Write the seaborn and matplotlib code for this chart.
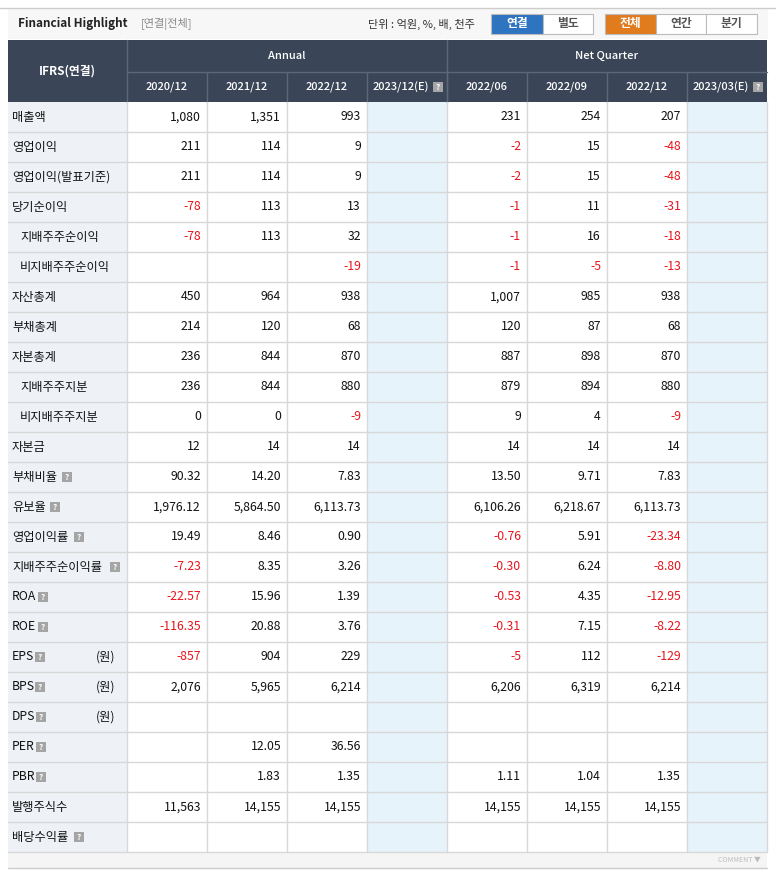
import matplotlib
matplotlib.use("Agg")
import matplotlib.pyplot as plt
from matplotlib.patches import Rectangle
import seaborn as sns

sns.set_theme(style="white")
plt.rcParams["font.family"] = ["Noto Sans CJK KR", "Noto Sans CJK JP", "DejaVu Sans"]

# ── data ─────────────────────────────────────────────────────────────────────
row_labels = ["매출액", "영업이익", "영업이익(발표기준)", "당기순이익", "지배주주순이익",
              "비지배주주순이익", "자산총계", "부채총계", "자본총계", "지배주주지분",
              "비지배주주지분", "자본금", "부채비율", "유보율", "영업이익률",
              "지배주주순이익률", "ROA", "ROE", "EPS", "BPS", "DPS", "PER", "PBR",
              "발행주식수", "배당수익률"]
indented = {"지배주주순이익", "비지배주주순이익", "지배주주지분", "비지배주주지분"}
won_rows = {"EPS", "BPS", "DPS"}
# x where the "?" help icon sits after each label (None = no icon)
icon_x = [None] * 12 + [62, 50, 74, 110, 38, 38, 35, 35, 36, 36, 36, None, 74]

col_labels = ["2020/12", "2021/12", "2022/12", "2023/12(E)",
              "2022/06", "2022/09", "2022/12", "2023/03(E)"]

y2020 = ["1,080", "211", "211", "-78", "-78", "", "450", "214", "236", "236", "0", "12",
         "90.32", "1,976.12", "19.49", "-7.23", "-22.57", "-116.35", "-857", "2,076",
         "", "", "", "11,563", ""]
y2021 = ["1,351", "114", "114", "113", "113", "", "964", "120", "844", "844", "0", "14",
         "14.20", "5,864.50", "8.46", "8.35", "15.96", "20.88", "904", "5,965",
         "", "12.05", "1.83", "14,155", ""]
y2022 = ["993", "9", "9", "13", "32", "-19", "938", "68", "870", "880", "-9", "14",
         "7.83", "6,113.73", "0.90", "3.26", "1.39", "3.76", "229", "6,214",
         "", "36.56", "1.35", "14,155", ""]
y2023e = [""] * 25
q2206 = ["231", "-2", "-2", "-1", "-1", "-1", "1,007", "120", "887", "879", "9", "14",
         "13.50", "6,106.26", "-0.76", "-0.30", "-0.53", "-0.31", "-5", "6,206",
         "", "", "1.11", "14,155", ""]
q2209 = ["254", "15", "15", "11", "16", "-5", "985", "87", "898", "894", "4", "14",
         "9.71", "6,218.67", "5.91", "6.24", "4.35", "7.15", "112", "6,319",
         "", "", "1.04", "14,155", ""]
q2212 = ["207", "-48", "-48", "-31", "-18", "-13", "938", "68", "870", "880", "-9", "14",
         "7.83", "6,113.73", "-23.34", "-8.80", "-12.95", "-8.22", "-129", "6,214",
         "", "", "1.35", "14,155", ""]
q2303e = [""] * 25
columns = [y2020, y2021, y2022, y2023e, q2206, q2209, q2212, q2303e]

# ── layout (pixel coords) ────────────────────────────────────────────────────
W, H = 776, 880
x0, lab_w, col_w = 8, 119, 80
top, h1, h2, row_h = 40, 32, 30, 30
body_top = top + h1 + h2
HEAD = "#3a4657"
HEAD_LINE = "#5d6877"
GRID = "#d8d8d8"
LAB_BG = "#eef2f7"
EST_BG = "#e6f3fa"
RED = "#e8141b"

fig = plt.figure(figsize=(W / 100, H / 100), dpi=100)
ax = fig.add_axes([0, 0, 1, 1])
ax.set_xlim(0, W)
ax.set_ylim(H, 0)
ax.axis("off")

def rect(x, y, w, h, fc, ec="none", lw=0.8):
    ax.add_patch(Rectangle((x, y), w, h, facecolor=fc, edgecolor=ec, linewidth=lw))

def help_icon(x, y):
    rect(x, y - 5, 10, 10, "#a5a5a5")
    ax.text(x + 5, y, "?", color="white", fontsize=6, ha="center", va="center",
            fontweight="bold")

# title bar
ax.plot([0, W], [8, 8], color="#cccccc", lw=1)
rect(8, 9, 760, 30, "#f7f7f7")
ax.text(18, 24, "Financial Highlight", fontsize=8.5, fontweight="bold", va="center",
        color="#222222")
ax.text(141, 24, "[연결|전체]", fontsize=8, va="center", color="#888888")
ax.text(368, 24, "단위 : 억원, %, 배, 천주", fontsize=8, va="center", color="#333333")
buttons = [("연결", 491, 52, "#2e74c0", "white"), ("별도", 543, 50, "white", "#555555"),
           ("전체", 605, 51, "#e07b1e", "white"), ("연간", 656, 50, "white", "#555555"),
           ("분기", 706, 51, "white", "#555555")]
for txt, bx, bw, fc, tc in buttons:
    rect(bx, 14, bw, 20, fc, ec="#bbbbbb")
    ax.text(bx + bw / 2, 24, txt, fontsize=8.5, ha="center", va="center", color=tc,
            fontweight="bold")

# header
tab_w = lab_w + col_w * 8
rect(x0, top, tab_w, h1 + h2, HEAD)
ax.text(x0 + lab_w / 2, top + (h1 + h2) / 2, "IFRS(연결)", color="white", fontsize=8.5,
        ha="center", va="center", fontweight="bold")
cx0 = x0 + lab_w
ax.plot([cx0, cx0], [top, body_top], color=HEAD_LINE, lw=1)
ax.plot([cx0, x0 + tab_w], [top + h1, top + h1], color=HEAD_LINE, lw=1)
ax.plot([cx0 + 4 * col_w] * 2, [top, body_top], color=HEAD_LINE, lw=1)
ax.text(cx0 + 2 * col_w, top + h1 / 2, "Annual", color="white", fontsize=8,
        ha="center", va="center", fontweight="medium")
ax.text(cx0 + 6 * col_w, top + h1 / 2, "Net Quarter", color="white", fontsize=8,
        ha="center", va="center", fontweight="medium")
for i, c in enumerate(col_labels):
    cx = cx0 + i * col_w
    if i:
        ax.plot([cx, cx], [top + h1, body_top], color=HEAD_LINE, lw=1)
    yc = top + h1 + h2 / 2
    if "(E)" in c:
        ax.text(cx + col_w / 2 - 6, yc, c, color="white", fontsize=8, ha="center",
                va="center", fontweight="medium")
        help_icon(cx + col_w - 14, yc)
    else:
        ax.text(cx + col_w / 2, yc, c, color="white", fontsize=8, ha="center",
                va="center", fontweight="medium")

# body
for r, lab in enumerate(row_labels):
    y = body_top + r * row_h
    yc = y + row_h / 2
    rect(x0, y, lab_w, row_h, LAB_BG)
    for i, col in enumerate(columns):
        cx = cx0 + i * col_w
        if "(E)" in col_labels[i]:
            rect(cx, y, col_w, row_h, EST_BG)
        v = col[r]
        if v:
            ax.text(cx + col_w - 6, yc, v, fontsize=8.8, ha="right", va="center",
                    color=RED if v.startswith("-") else "#111111")
    ax.plot([x0, x0 + tab_w], [y + row_h, y + row_h], color=GRID, lw=1)
    ax.text(x0 + (12 if lab in indented else 4), yc, lab, fontsize=8.8, va="center",
            color="#111111")
    if icon_x[r] is not None:
        help_icon(icon_x[r], yc)
    if lab in won_rows:
        ax.text(96, yc, "(원)", fontsize=8.8, va="center", color="#111111")

body_bot = body_top + len(row_labels) * row_h
for i in range(9):
    cx = cx0 + i * col_w
    ax.plot([cx, cx], [body_top, body_bot], color=GRID, lw=1)

# footer strip
rect(x0, body_bot, tab_w, 16, "#f5f5f5")
ax.plot([x0, x0 + tab_w], [body_bot + 16] * 2, color="#cccccc", lw=1)
ax.text(x0 + tab_w - 6, body_bot + 8, "COMMENT ▼", fontsize=5, ha="right", va="center",
        color="#bbbbbb")

fig.savefig("out.png", dpi=100)
